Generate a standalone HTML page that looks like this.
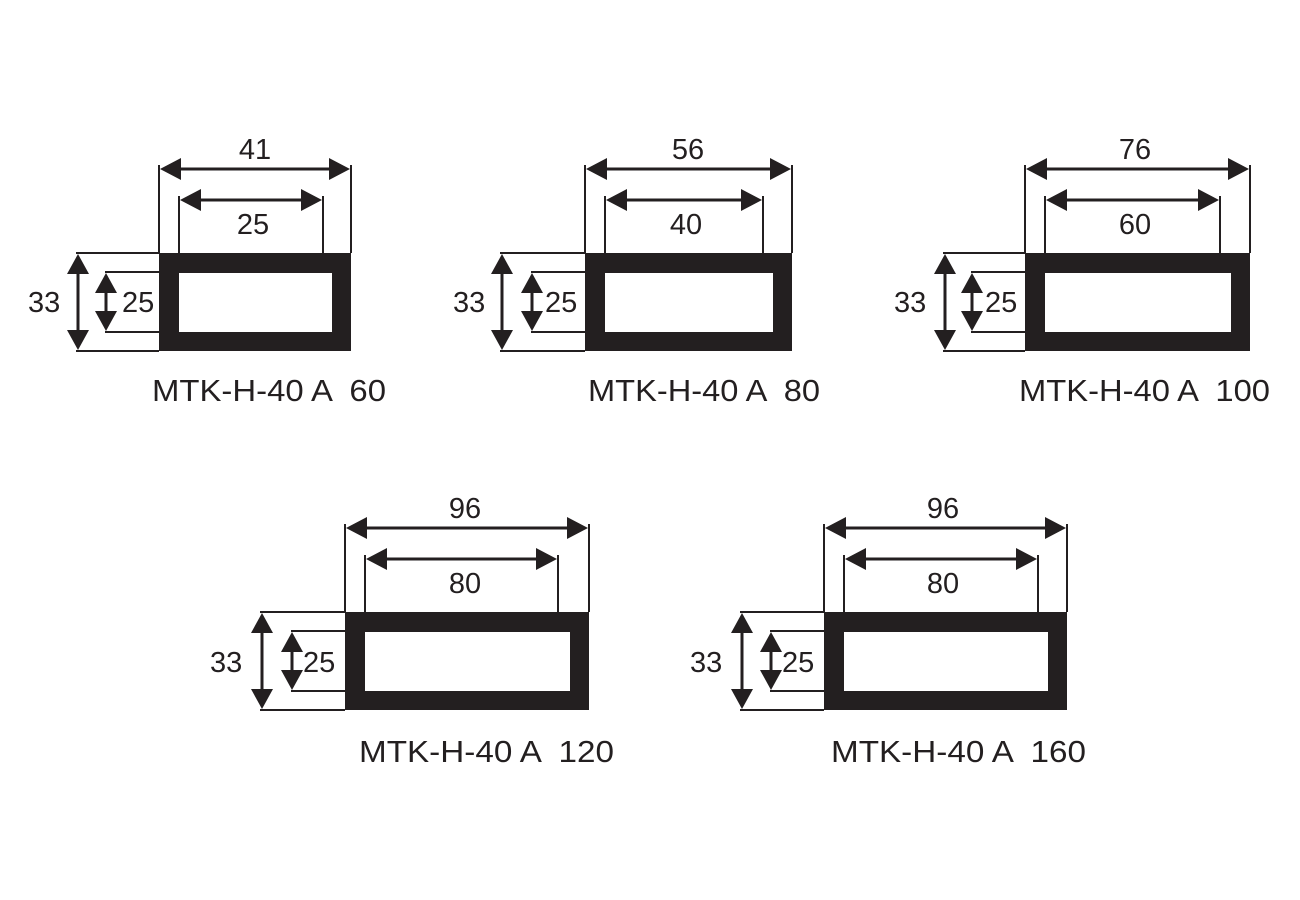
<!DOCTYPE html>
<html><head><meta charset="utf-8"><style>
html,body{margin:0;padding:0;background:#fff;}
svg{display:block;}
text{font-family:"Liberation Sans",sans-serif;fill:#231f20;white-space:pre;}
</style></head><body>
<svg id="s" width="1300" height="900" viewBox="0 0 1300 900" xmlns="http://www.w3.org/2000/svg">
<rect width="1300" height="900" fill="#fff"/>
<g id="shapes"></g>
<g font-size="29" text-anchor="middle">
<text x="255" y="159">41</text><text x="253" y="234">25</text>
<text x="688" y="159">56</text><text x="686" y="234">40</text>
<text x="1135" y="159">76</text><text x="1135" y="234">60</text>
<text x="465" y="518">96</text><text x="465" y="593">80</text>
<text x="943" y="518">96</text><text x="943" y="593">80</text>
</g>
<g font-size="29">
<text x="28" y="312">33</text><text x="122" y="312">25</text>
<text x="453" y="312">33</text><text x="545" y="312">25</text>
<text x="894" y="312">33</text><text x="985" y="312">25</text>
<text x="210" y="672">33</text><text x="303" y="672">25</text>
<text x="690" y="672">33</text><text x="782" y="672">25</text>
</g>
<g font-size="31">
<text x="152" y="401" textLength="234" lengthAdjust="spacingAndGlyphs" xml:space="preserve">MTK-H-40 A  60</text>
<text x="588" y="401" textLength="232" lengthAdjust="spacingAndGlyphs" xml:space="preserve">MTK-H-40 A  80</text>
<text x="1019" y="401" textLength="251" lengthAdjust="spacingAndGlyphs" xml:space="preserve">MTK-H-40 A  100</text>
<text x="359" y="762" textLength="255" lengthAdjust="spacingAndGlyphs" xml:space="preserve">MTK-H-40 A  120</text>
<text x="831" y="762" textLength="255" lengthAdjust="spacingAndGlyphs" xml:space="preserve">MTK-H-40 A  160</text>
</g>
</svg>
<script>
var g=document.getElementById('shapes'),h='';
function ln(x1,y1,x2,y2,w){h+='<line x1="'+x1+'" y1="'+y1+'" x2="'+x2+'" y2="'+y2+'" stroke="#231f20" stroke-width="'+(w||2)+'"/>';}
function tri(p){h+='<polygon fill="#231f20" points="'+p+'"/>';}
function harr(x1,x2,y){ln(x1+15,y,x2-15,y,3);tri(x1+','+y+' '+(x1+21)+','+(y-11)+' '+(x1+21)+','+(y+11));tri(x2+','+y+' '+(x2-21)+','+(y-11)+' '+(x2-21)+','+(y+11));}
function varr(x,y1,y2){ln(x,y1+15,x,y2-15,3);tri(x+','+y1+' '+(x-11)+','+(y1+20)+' '+(x+11)+','+(y1+20));tri(x+','+y2+' '+(x-11)+','+(y2-20)+' '+(x+11)+','+(y2-20));}
var D=[[159,351,253,323,83],[585,792,253,763,85],[1025,1250,253,1220,82],[345,589,612,558,85],[824,1067,612,1038,84]];
D.forEach(function(d){var L=d[0],R=d[1],T=d[2],IR=d[3],o=d[4],B=T+98,IL=L+20,ya=T-84,yb=T-53;
 ln(L,ya-4,L,T);ln(R,ya-4,R,T);ln(IL,yb-4,IL,T);ln(IR,yb-4,IR,T);
 harr(L+1,R-1,ya);harr(IL+1,IR-1,yb);
 var xa=L-o+2,xb=L-53;
 ln(xa-2,T,L,T);ln(xa-2,B,L,B);ln(xb-1,T+19,L,T+19);ln(xb-1,B-19,L,B-19);
 varr(xa,T+1,B-1);varr(xb,T+20,B-20);
 h+='<rect x="'+L+'" y="'+T+'" width="'+(R-L)+'" height="'+(B-T)+'" fill="#231f20"/>';
 h+='<rect x="'+(L+20)+'" y="'+(T+20)+'" width="'+(R-L-39)+'" height="'+(B-T-39)+'" fill="#fff"/>';
});
g.innerHTML=h;
</script>
</body></html>
